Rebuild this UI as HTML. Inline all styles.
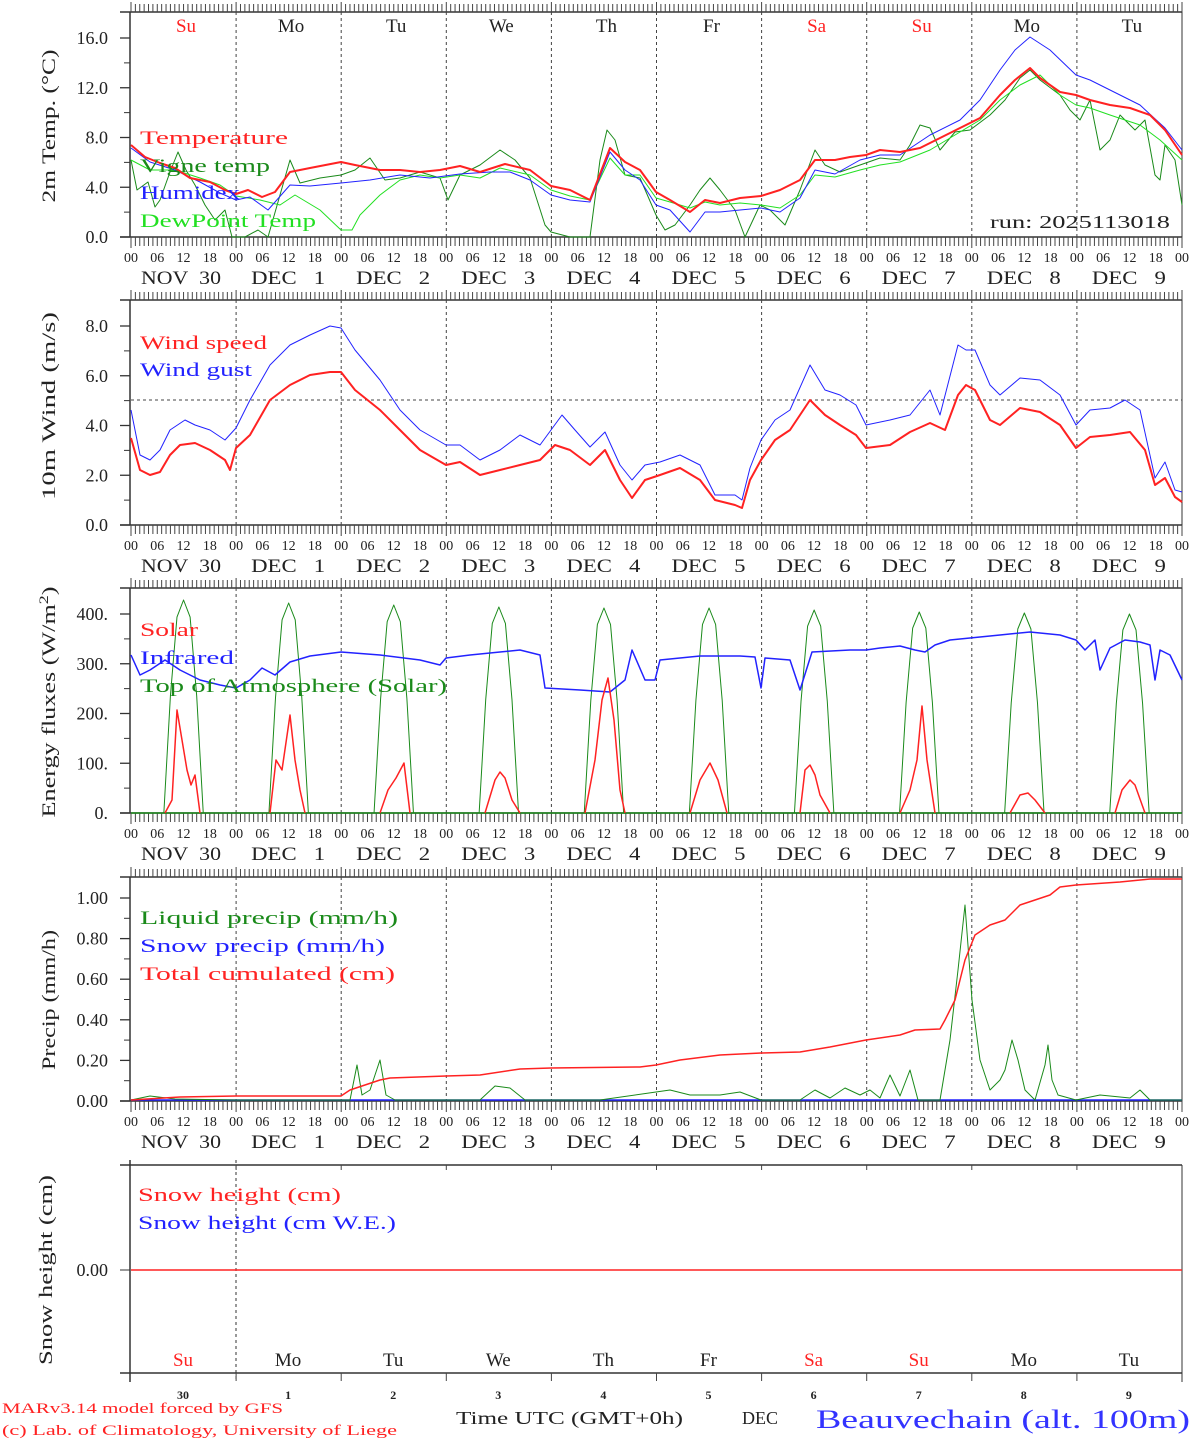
<!DOCTYPE html>
<html><head><meta charset="utf-8"><style>
body{margin:0;background:#fff;}
svg{display:block;font-family:"Liberation Serif",serif;}
</style></head><body>
<svg id="s" width="1194" height="1440" xmlns="http://www.w3.org/2000/svg"></svg>
<script>
var s=document.getElementById('s'),h='';
var X0=131,DW=105.1,HW=DW/24;
function L(x1,y1,x2,y2,c,w,d){h+='<line x1="'+x1+'" y1="'+y1+'" x2="'+x2+'" y2="'+y2+'" stroke="'+(c||'#333')+'" stroke-width="'+(w||1)+'"'+(d?' stroke-dasharray="'+d+'"':'')+'/>';}
function T(x,y,t,sz,c,a,extra){h+='<text x="'+x+'" y="'+y+'" font-size="'+sz+'" fill="'+(c||'#222')+'"'+(a?' text-anchor="'+a+'"':'')+(extra||'')+'>'+t+'</text>';}
function TL(x,y,t,sz,c,len,a){T(x,y,t,sz,c,a,' textLength="'+len+'" lengthAdjust="spacingAndGlyphs"');}
function P(pts,c,w){h+='<polyline fill="none" stroke="'+c+'" stroke-width="'+(w||1)+'" stroke-linejoin="round" points="'+pts.map(function(p){return p.join(',')}).join(' ')+'"/>';}
var panels=[[12,237],[300,525],[588,813],[877,1101]];
var dates=['NOV  30','DEC   1','DEC   2','DEC   3','DEC   4','DEC   5','DEC   6','DEC   7','DEC   8','DEC   9'];
panels.forEach(function(p,i){
 var t=p[0],b=p[1];
 L(120,t,1182,t,'#333',1.5);L(120,b,1182,b,'#333',1.5);
 L(130,t,130,b,'#333',1.5);L(1182,t,1182,b,'#333',1);
 for(var k=0;k<=240;k++){var x=X0+k*HW;var big=k%24==0;
  L(x,t-(big?10:8),x,t,'#444',1);L(x,b,x,b+(big?11:9),'#444',1);
  if(k%6==0)T(x,b+25,('0'+(k%24)).slice(-2),14,'#222','middle');
  if(big&&k>0&&k<240)L(x,t,x,b,'#444',1,'3,3');}
 for(var d=0;d<10;d++)TL(X0+d*DW+(d==0?10:15),b+47,dates[d].replace(/ /g,'&#160;'),19,'#222',d==0?80:74);
});
// panel 5
L(120,1165,1182,1165,'#333',1.5);L(120,1373,1182,1373,'#333',1.5);L(130,1160,130,1382,'#333',1.5);L(1182,1165,1182,1382,'#333',1);
L(236,1160,236,1380,'#333',1,'3,3');
for(var d=1;d<10;d++){var x=X0+d*DW;L(x,1373,x,1381,'#444',1);L(x,1165,x,1170,'#444',1);}
var days=['Su','Mo','Tu','We','Th','Fr','Sa','Su','Mo','Tu'],red=[1,0,0,0,0,0,1,1,0,0];
for(var d=0;d<10;d++){T(X0+d*DW+55,32,days[d],19,red[d]?'#f22':'#222','middle');
 T(X0+d*DW+52,1366,days[d],19,red[d]?'#f22':'#222','middle');
 T(X0+d*DW+52,1399,d==0?'30':String(d),12,'#222','middle',' font-weight="bold"');}
// y axes
function yax(vals,y0,dy,minor,title,ty,len){vals.forEach(function(v,i){var y=y0-i*dy;L(120,y,130,y,'#333',1.3);T(108,y+6,v,18,'#222','end');});
 if(minor)for(var i=0;i<vals.length-1;i++){var y=y0-(i+0.5)*dy;L(124,y,130,y,'#333',1);} 
 h+='<text transform="translate(55,'+ty+') rotate(-90)" font-size="19" fill="#222" text-anchor="middle" textLength="'+len+'" lengthAdjust="spacingAndGlyphs">'+title+'</text>';}
yax(['0.0','4.0','8.0','12.0','16.0'],237,49.75,1,'2m Temp. (°C)',126,153);
yax(['0.0','2.0','4.0','6.0','8.0'],525,49.75,1,'10m Wind (m/s)',406,188);
yax(['0.','100.','200.','300.','400.'],813,49.75,1,'Energy fluxes (W/m<tspan dy="-7" font-size="13">2</tspan><tspan dy="7">)</tspan>',702,231);
yax(['0.00','0.20','0.40','0.60','0.80','1.00'],1101,40.6,1,'Precip (mm/h)',1000,140);
L(120,1270,130,1270);T(108,1276,'0.00',18,'#222','end');
h+='<text transform="translate(52,1270) rotate(-90)" font-size="19" fill="#222" text-anchor="middle" textLength="190" lengthAdjust="spacingAndGlyphs">Snow height (cm)</text>';
L(131,400,1182,400,'#444',1,'3,3');
// series panel 1
P([[131,160],[137,190],[148,182],[155,207],[160,200],[170,172],[178,152],[186,170],[195,185],[205,205],[215,220],[225,210],[232,237],[245,237],[258,230],[268,237],[290,160],[300,183],[320,178],[341,175],[355,170],[370,158],[385,180],[400,178],[420,172],[440,178],[448,200],[460,175],[480,165],[500,150],[515,160],[530,178],[545,225],[551,232],[570,237],[590,237],[600,160],[607,130],[615,140],[625,175],[640,178],[656,215],[665,230],[675,225],[690,205],[700,190],[710,178],[720,190],[735,210],[745,237],[760,205],[770,210],[785,225],[800,190],[815,150],[825,165],[840,172],[860,165],[880,158],[900,160],[910,145],[920,125],[930,128],[940,150],[955,132],[970,130],[990,115],[1005,100],[1020,78],[1030,70],[1040,80],[1060,95],[1070,110],[1080,120],[1090,100],[1100,150],[1110,140],[1120,115],[1135,130],[1145,120],[1155,175],[1160,180],[1165,145],[1175,160],[1182,205]],'#1a8a1a');
P([[131,160],[150,170],[175,170],[200,178],[220,185],[236,196],[260,200],[280,205],[295,195],[320,210],[341,230],[352,230],[360,215],[380,195],[400,180],[420,175],[440,178],[460,175],[480,178],[500,168],[530,175],[551,190],[570,196],[590,200],[610,158],[625,175],[640,175],[656,198],[670,202],[690,208],[705,202],[720,205],[740,203],[761,205],[780,208],[800,195],[815,175],[835,177],[860,170],[880,165],[900,162],[930,150],[960,132],[980,120],[1000,100],[1020,85],[1040,75],[1060,95],[1076,105],[1090,108],[1110,115],[1140,125],[1160,140],[1182,160]],'#22e022');
P([[131,148],[150,162],[175,170],[200,182],[220,193],[236,200],[250,197],[268,210],[290,185],[310,186],[341,183],[370,180],[400,175],[430,178],[460,174],[490,172],[510,172],[530,180],[551,195],[570,200],[590,202],[610,152],[625,170],[640,180],[656,205],[670,210],[690,232],[705,212],[720,212],[740,210],[761,208],[780,212],[800,198],[815,170],[835,174],[860,160],[880,155],[900,155],[930,135],[960,120],[980,100],[1000,70],[1015,50],[1030,37],[1050,50],[1076,75],[1090,80],[1110,90],[1140,105],[1165,128],[1182,150]],'#22f');
P([[131,145],[145,157],[160,163],[175,168],[190,178],[210,182],[225,190],[236,194],[248,190],[262,197],[275,192],[290,172],[310,168],[341,162],[355,165],[380,170],[400,170],[420,172],[440,170],[460,166],[480,172],[505,164],[530,170],[551,186],[570,190],[590,200],[610,148],[625,162],[640,170],[656,192],[670,200],[690,212],[705,200],[720,203],[740,198],[761,196],[780,190],[800,180],[815,160],[835,160],[850,157],[866,155],[880,150],[900,152],[920,148],[940,138],[960,128],[980,118],[1000,95],[1015,80],[1030,68],[1040,78],[1060,92],[1076,95],[1090,100],[1110,105],[1130,108],[1150,115],[1165,130],[1182,155]],'#f22',2);
TL(140,144,'Temperature',19,'#f22',148);TL(140,172,'Vigne temp',19,'#1a8a1a',130);TL(140,199,'Humidex',19,'#22f',100);TL(140,227,'DewPoint Temp',19,'#22e022',176);
TL(990,228,'run: 2025113018',18,'#222',180);
// panel 2
P([[131,410],[140,455],[150,460],[160,450],[170,430],[185,420],[195,425],[210,430],[225,440],[236,428],[250,400],[270,365],[290,345],[310,335],[330,326],[341,328],[355,350],[380,380],[400,410],[420,430],[446,445],[460,445],[480,460],[500,450],[520,435],[540,445],[562,415],[575,430],[590,447],[605,432],[620,465],[632,480],[645,465],[660,462],[680,455],[700,465],[715,495],[735,495],[742,500],[750,468],[761,440],[775,420],[790,410],[810,365],[825,390],[840,395],[856,405],[866,425],[890,420],[910,415],[930,390],[940,415],[958,345],[966,350],[975,350],[990,385],[1000,395],[1020,378],[1040,380],[1060,395],[1076,425],[1090,410],[1110,408],[1125,400],[1140,410],[1155,478],[1165,462],[1175,490],[1182,492]],'#22f');
P([[131,438],[140,470],[150,475],[160,472],[170,455],[180,445],[195,443],[210,450],[225,460],[230,470],[236,448],[250,435],[270,400],[290,385],[310,375],[330,372],[341,372],[355,390],[380,410],[400,430],[420,450],[446,465],[460,462],[480,475],[500,470],[520,465],[540,460],[555,445],[570,450],[590,465],[605,450],[620,480],[632,498],[645,480],[660,475],[680,468],[700,480],[715,500],[735,505],[742,508],[750,480],[761,460],[775,440],[790,430],[810,400],[825,415],[840,425],[856,435],[866,448],[890,445],[910,432],[930,423],[945,430],[958,395],[966,385],[975,390],[990,420],[1000,425],[1020,408],[1040,412],[1060,425],[1076,448],[1090,437],[1110,435],[1130,432],[1145,450],[1155,485],[1165,478],[1175,497],[1182,502]],'#f22',2);
TL(140,349,'Wind speed',19,'#f22',127);TL(140,376,'Wind gust',19,'#22f',112);
// panel 3
L(131,813,1182,813,'#1a8a1a',1.5);
var pk=[600,603,605,607,608,608,610,612,613,614];
for(var d=0;d<10;d++){var b=X0+d*DW,H=813-pk[d];var fr=[[7.5,0],[9,.55],[10.5,.92],[12,1],[13.5,.92],[15,.55],[16.5,0]];
 P(fr.map(function(f){return [b+f[0]*HW,813-H*f[1]]}),'#1a8a1a');}
P([[131,655],[140,675],[150,670],[165,660],[180,670],[200,680],[220,685],[236,688],[250,680],[262,668],[275,675],[290,662],[310,656],[341,652],[380,655],[420,660],[440,665],[446,658],[470,655],[500,652],[520,650],[540,655],[545,688],[580,690],[610,692],[625,680],[632,650],[645,680],[655,680],[660,660],[700,656],[740,656],[755,657],[761,688],[765,658],[790,660],[800,690],[812,652],[850,650],[866,650],[880,648],[900,646],[915,650],[925,652],[935,645],[950,640],[970,638],[1000,635],[1030,632],[1060,635],[1076,640],[1085,650],[1095,640],[1100,670],[1110,648],[1125,640],[1140,642],[1150,645],[1155,680],[1160,650],[1170,655],[1182,680]],'#22f',1.5);
[[[165,813],[172,800],[177,710],[182,740],[187,770],[191,785],[195,775],[200,813]],[[270,813],[276,760],[282,770],[290,715],[295,760],[300,790],[305,813]],[[380,813],[388,790],[396,778],[404,763],[410,813]],[[485,813],[495,780],[500,772],[505,778],[512,800],[520,813]],[[585,813],[595,760],[602,700],[608,678],[614,720],[620,790],[625,813]],[[690,813],[700,780],[710,763],[718,780],[727,813]],[[800,813],[805,770],[810,765],[815,775],[820,795],[830,813]],[[900,813],[910,790],[917,760],[922,706],[927,760],[935,813]],[[1010,813],[1020,795],[1028,793],[1035,800],[1045,813]],[[1115,813],[1122,790],[1130,780],[1135,785],[1145,813]]].forEach(function(a){P(a,'#f22',1.5)});
TL(140,636,'Solar',19,'#f22',58);TL(140,664,'Infrared',19,'#22f',94);TL(140,692,'Top of Atmosphere (Solar)',19,'#1a8a1a',307);
// panel 4
L(131,1100,1182,1100,'#22f',1.5);
P([[131,1100],[150,1096],[175,1099],[236,1100],[350,1100],[357,1065],[362,1095],[370,1090],[380,1060],[386,1095],[395,1100],[480,1100],[495,1086],[510,1088],[525,1100],[600,1100],[656,1092],[670,1090],[690,1095],[720,1095],[740,1092],[761,1100],[800,1100],[815,1090],[830,1098],[845,1088],[860,1095],[870,1090],[880,1098],[890,1075],[900,1096],[910,1070],[918,1100],[940,1100],[950,1040],[958,970],[965,905],[972,1000],[980,1060],[990,1090],[1000,1080],[1005,1070],[1012,1040],[1018,1060],[1025,1090],[1035,1100],[1045,1065],[1048,1045],[1052,1080],[1058,1095],[1076,1100],[1100,1095],[1130,1098],[1140,1090],[1150,1100],[1182,1100]],'#1a8a1a');
P([[131,1100],[180,1097],[236,1096],[341,1096],[350,1090],[380,1080],[390,1078],[446,1076],[480,1075],[520,1069],[551,1068],[640,1067],[656,1065],[680,1060],[720,1055],[761,1053],[800,1052],[830,1047],[866,1040],[900,1035],[915,1030],[940,1029],[945,1020],[955,1000],[965,960],[975,935],[990,925],[1005,920],[1020,905],[1035,900],[1050,895],[1060,887],[1076,885],[1120,882],[1150,879],[1182,879]],'#f22',1.5);
TL(140,924,'Liquid precip (mm/h)',19,'#1a8a1a',258);TL(140,952,'Snow precip (mm/h)',19,'#22f',245);TL(140,980,'Total cumulated (cm)',19,'#f22',255);
// panel 5
L(131,1270,1182,1270,'#f22',1.5);
TL(138,1201,'Snow height (cm)',19,'#f22',203);TL(138,1229,'Snow height (cm W.E.)',19,'#22f',258);
TL(2,1413,'MARv3.14 model forced by GFS',15,'#f22',281);TL(2,1435,'(c) Lab. of Climatology, University of Liege',15,'#f22',395);
TL(456,1424,'Time UTC (GMT+0h)',18,'#222',227);T(742,1424,'DEC',18,'#222');
TL(816,1428,'Beauvechain (alt. 100m)',26,'#33f',374);
s.innerHTML=h;
</script>
</body></html>
